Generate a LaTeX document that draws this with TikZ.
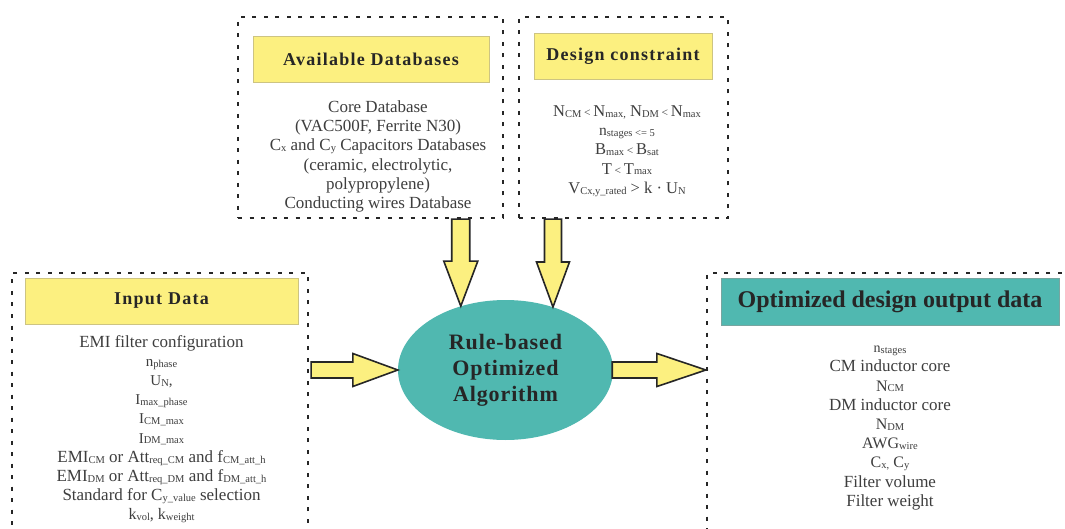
\documentclass[tikz,border=0pt]{standalone}
\usepackage{fontspec}
\setmainfont{Liberation Serif}
\usetikzlibrary{calc,shapes.geometric}

\definecolor{boxyellow}{RGB}{252,240,128}
\definecolor{yellowedge}{RGB}{205,196,130}
\definecolor{tealfill}{RGB}{80,184,176}
\definecolor{tealedge}{RGB}{120,165,160}
\definecolor{ink}{RGB}{38,38,38}
\definecolor{bodyink}{RGB}{62,62,62}

% small lowered index text used throughout the lists
\newcommand\sbs[1]{\raisebox{-0.8pt}{\fontsize{10.5}{12}\selectfont #1}}
% small relation sign kept on the baseline
\newcommand\rel[1]{{\fontsize{11.5}{12}\selectfont #1}}
\newcommand\fs[1]{\fontsize{#1}{19.2}\selectfont}

\begin{document}
\begin{tikzpicture}[x=1pt,y=-1pt,
  dotbox/.style={draw=ink, line width=2.2pt, dash pattern=on 4pt off 7.5pt, inner sep=0pt},
  titlebox/.style={fill=boxyellow, draw=yellowedge, line width=0.8pt, inner sep=0pt,
    text=ink, font=\fs{18}\bfseries\addfontfeature{LetterSpace=7}},
  outtitle/.style={fill=tealfill, draw=tealedge, line width=0.8pt, inner sep=0pt,
    text=ink, font=\fs{24}\bfseries},
  bodytext/.style={align=center, text=bodyink, font=\fs{17}, inner sep=0pt},
  algobox/.style={ellipse, fill=tealfill, inner sep=0pt, align=center, text=ink,
    font=\fontsize{22}{26}\selectfont\bfseries\addfontfeature{LetterSpace=4}},
  blockarrow/.style={fill=boxyellow, draw=ink, line width=1.6pt, line join=miter}
]
\useasboundingbox (0,0) rectangle (1065,529);
\fill[white] (0,0) rectangle (1065,529);
\clip (0,0) rectangle (1065,529);

% ---- frames ----
\node[dotbox, minimum width=265pt, minimum height=201pt] (db) at (370.5,117.5) {};
\node[dotbox, minimum width=209pt, minimum height=201pt] (dc) at (623.5,117.5) {};
\node[dotbox, minimum width=296pt, minimum height=287pt] (inb) at (160,416.5) {};
\node[dotbox, minimum width=373pt, minimum height=287pt] (outb) at (893.5,416.5) {};

% ---- headings ----
\node[titlebox, minimum width=236pt, minimum height=46pt] (dbt) at (371,59) {Available Databases};
\node[titlebox, minimum width=178pt, minimum height=46pt] (dct) at (623,56) {Design constraint};
\node[titlebox, minimum width=273pt, minimum height=46pt] (int) at (161.5,301) {Input Data};
\node[outtitle, minimum width=338pt, minimum height=47pt] (outt) at (890,301.5) {Optimized design output data};

% ---- contents ----
\node[bodytext] (dbx) at (378,156.5) {%
  Core Database\\
  (VAC500F, Ferrite N30)\\
  C\sbs{x} and C\sbs{y} Capacitors Databases\\
  (ceramic, electrolytic,\\
  polypropylene)\\
  Conducting wires Database};

\node[bodytext, font=\fs{16.5}] (dcx) at (627,151) {%
  N\sbs{CM}\,\rel{<}\,N\sbs{max}\sbs{,} N\sbs{DM}\,\rel{<}\,N\sbs{max}\\
  {\fs{15.5}n}\sbs{stages <= 5}\\
  B\sbs{max}\,\rel{<}\,B\sbs{sat}\\
  T\,\rel{<}\,T\sbs{max}\\
  V\sbs{Cx,y\_rated} > k · U\sbs{N}};

\node[bodytext] (inx) at (161.5,429) {%
  EMI filter configuration\\
  {\fs{15}n}\sbs{phase}\\
  {\fs{15}U}\sbs{N}{\fs{15},}\\
  {\fs{15}I}\sbs{max\_phase}\\
  {\fs{15}I}\sbs{CM\_max}\\
  {\fs{15}I}\sbs{DM\_max}\\
  EMI\sbs{CM} or Att\sbs{req\_CM} and f\sbs{CM\_att\_h}\\
  EMI\sbs{DM} or Att\sbs{req\_DM} and f\sbs{DM\_att\_h}\\
  Standard for C\sbs{y\_value} selection\\
  {\fs{16}k}\sbs{vol}{\fs{16}, k}\sbs{weight}};

\node[bodytext] (outx) at (890,428) {%
  {\fs{14}n}\sbs{stages}\\
  CM inductor core\\
  {\fs{16}N}\sbs{CM}\\
  DM inductor core\\
  {\fs{16}N}\sbs{DM}\\
  {\fs{16}AWG}\sbs{wire}\\
  {\fs{16}C}\sbs{x,} {\fs{16}C}\sbs{y}\\
  Filter volume\\
  Filter weight};

% ---- central algorithm ----
\node[algobox, minimum width=215pt, minimum height=140pt] (algo) at (505.5,370)
  {Rule-based\\Optimized\\Algorithm};

% ---- block arrows ----
\path (algo.125.8) coordinate (t1) (algo.53) coordinate (t2)
      (algo.west) coordinate (t3) (algo.east) coordinate (s4);
\coordinate (s1) at (db.south -| t1);
\coordinate (s2) at (dc.south -| t2);
\coordinate (s3) at (inb.east |- t3);
\coordinate (t4) at (outb.west |- s4);

\draw[blockarrow] ($(s1)+(-9,0)$) -- ($(t1)+(-9,-45)$) -- ($(t1)+(-17,-45)$) -- (t1)
  -- ($(t1)+(17,-45)$) -- ($(t1)+(9,-45)$) -- ($(s1)+(9,0)$) -- cycle;
\draw[blockarrow] ($(s2)+(-8.5,0)$) -- ($(t2)+(-8.5,-45)$) -- ($(t2)+(-16.5,-45)$) -- (t2)
  -- ($(t2)+(16.5,-45)$) -- ($(t2)+(8.5,-45)$) -- ($(s2)+(8.5,0)$) -- cycle;
\draw[blockarrow] ($(s3)+(2,-8)$) -- ($(t3)+(-45,-8)$) -- ($(t3)+(-45,-16.5)$) -- (t3)
  -- ($(t3)+(-45,16.5)$) -- ($(t3)+(-45,8)$) -- ($(s3)+(2,8)$) -- cycle;
\draw[blockarrow] ($(s4)+(-1,-8)$) -- ($(t4)+(-49,-8)$) -- ($(t4)+(-49,-16.5)$) -- (t4)
  -- ($(t4)+(-49,16.5)$) -- ($(t4)+(-49,8)$) -- ($(s4)+(-1,8)$) -- cycle;
\end{tikzpicture}
\end{document}
